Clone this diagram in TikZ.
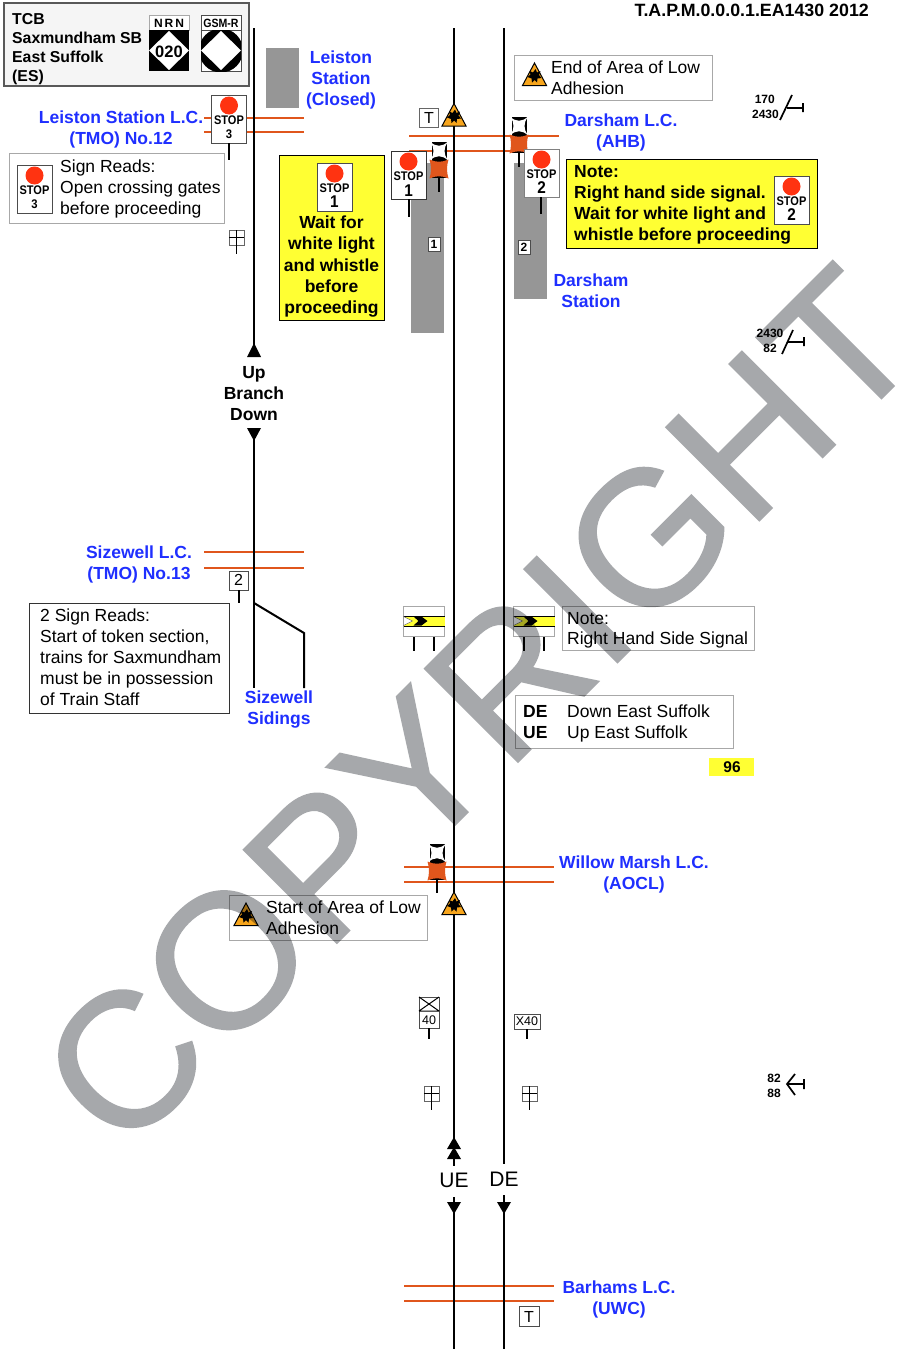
\documentclass[tikz,border=0pt]{standalone}
\usepackage{fontspec}
\setmainfont{Liberation Sans}
\newfontfamily\wmfont[FakeBold=0.8]{Liberation Sans}
\usetikzlibrary{calc}
\definecolor{lineblue}{HTML}{1F2FFF}
\definecolor{xingred}{HTML}{E0561C}
\definecolor{platgrey}{HTML}{969696}
\definecolor{signyellow}{HTML}{FFFF33}
\definecolor{warnorange}{HTML}{F7A51C}
\definecolor{stopred}{HTML}{FF3311}
\definecolor{boxgrey}{HTML}{A8A8A8}
\definecolor{wmgrey}{HTML}{A6A8AB}
\newcommand{\fs}[1]{\fontsize{#1}{#1}\selectfont}
\tikzset{
  x=1pt,y=-1pt,
  track/.style={line width=2pt,black},
  xing/.style={line width=1.5pt,xingred},
  post/.style={line width=1.8pt,black},
  mileline/.style={line width=1.7pt,black},
  platform/.style={fill=platgrey,draw=none},
  loc/.style={font=\fs{17.5}\bfseries,text=lineblue,inner sep=0pt,anchor=center,text height=12.5pt,text depth=0.5pt},
  body/.style={font=\fs{17.5},inner sep=0pt,anchor=west,text height=12.5pt,text depth=0.5pt},
  bodyb/.style={font=\fs{17.5}\bfseries,inner sep=0pt,text height=12.5pt,text depth=0.5pt},
  hdr/.style={font=\fs{15.8}\bfseries,inner sep=0pt,anchor=west,text height=11.5pt,text depth=0.5pt},
  mile/.style={font=\fs{12}\bfseries,inner sep=0pt},
  notebox/.style={draw=boxgrey,line width=1pt,fill=white},
  pics/stopsign/.style n args={4}{code={
    \draw[fill=white,draw=#3,line width=1pt] (0,0) rectangle (35,48);
    \fill[stopred] (17.5,10.5) circle (9);
    \node[inner sep=0pt,font=\fs{12.5}\bfseries] at (17.5,25.5) {\scalebox{.88}[1]{STOP}};
    \node[inner sep=0pt,font=\fs{#2}\bfseries] at (17.5,#4) {\scalebox{.9}[1]{#1}};
  }},
  pics/wigwag/.style={code={
    \fill[black] (0.5,0) rectangle (15.5,18);
    \fill[white] (-0.5,0) .. controls (5,5) and (11,5) .. (16.5,0)
       .. controls (12.5,6) and (12.5,12) .. (16.5,18)
       .. controls (11,13) and (5,13) .. (-0.5,18)
       .. controls (3.5,12) and (3.5,6) .. (-0.5,0) -- cycle;
    \fill[black] (0.5,18) rectangle (15.5,36);
    \fill[xingred] (-1.5,17.5) .. controls (5,20.5) and (11,20.5) .. (17.5,17.5)
       .. controls (15.5,24) and (15.5,30) .. (17.5,36.5)
       .. controls (11,33.5) and (5,33.5) .. (-1.5,36.5)
       .. controls (0.5,30) and (0.5,24) .. (-1.5,17.5) -- cycle;
  }},
  pics/warning/.style={code={
    \fill[warnorange,draw=black,line width=1pt,line join=miter] (0,-12) -- (12,10.5) -- (-12,10.5) -- cycle;
    \fill[black] (1,-6) -- (2.5,-2.5) -- (6,-4) -- (4.5,0) -- (7,3) -- (3,3.5) -- (2.5,7.5) -- (0,5)
      -- (-2.5,7.5) -- (-3,3.5) -- (-7,2) -- (-4,-0.5) -- (-5,-4) -- (-1.5,-2.5) -- cycle;
  }},
  pics/gridsign/.style={code={
    \draw[draw=boxgrey!60!black,line width=1pt,fill=white] (0,0) rectangle (15,15);
    \draw[black,line width=.8pt] (7.5,0) -- (7.5,15) (0,7.5) -- (15,7.5);
    \draw[post] (7.5,15) -- (7.5,24);
  }},
  pics/chevron/.style={code={
    \draw[notebox] (0,0) rectangle (41,30);
    \fill[signyellow] (0,10) rectangle (41,20);
    \draw[black,line width=.8pt] (0,10) -- (41,10) (0,20) -- (41,20);
    \fill[white,draw=black!70,line width=.4pt] (0,10.5) -- (9,15) -- (0,19.5) -- cycle;
    \fill[black] (10,10.5) -- (18,10.5) -- (24,15) -- (18,19.5) -- (10,19.5) -- (15,15) -- cycle;
    \draw[post] (10.5,31) -- (10.5,45) (30.5,31) -- (30.5,45);
  }},
  ttri/.style={fill=black,draw=none}
}
\begin{document}
\begin{tikzpicture}
\useasboundingbox (0,0) rectangle (900,1349);
\fill[white] (0,0) rectangle (900,1349);

% platforms
\fill[platform] (266,48) rectangle (299,108);
\fill[platform] (411,163) rectangle (444,333);
\fill[platform] (514,163) rectangle (547,299);

% crossing lines
\draw[xing] (204,118) -- (304,118) (204,132) -- (304,132);
\draw[xing] (204,552) -- (304,552) (204,568) -- (304,568);
\draw[xing] (409,136) -- (559,136) (409,151) -- (559,151);
\draw[xing] (404,867) -- (554,867) (404,882) -- (554,882);
\draw[xing] (404,1286) -- (554,1286) (404,1301) -- (554,1301);

% tracks
\coordinate (br1) at (254,28); \coordinate (br2) at (254,357);
\coordinate (br3) at (254,428); \coordinate (br4) at (254,688);
\coordinate (sd1) at (254,603); \coordinate (sd2) at (304,633); \coordinate (sd3) at (304,688);
\draw[track] (br1) -- (br2);
\draw[track] (br3) -- (br4);
\draw[track,line join=miter] (sd1) -- (sd2) -- (sd3);
\coordinate (ue1) at (454,28); \coordinate (ue2) at (454,1166);
\coordinate (ue3) at (454,1197); \coordinate (ue4) at (454,1349);
\coordinate (de1) at (504,28); \coordinate (de2) at (504,1164);
\coordinate (de3) at (504,1195); \coordinate (de4) at (504,1349);
\draw[track] (ue1) -- (ue2) (ue3) -- (ue4);
\draw[track] (de1) -- (de2) (de3) -- (de4);
\fill[ttri] (254,343) -- (261,357) -- (247,357) -- cycle;
\fill[ttri] (247,428) -- (261,428) -- (254,441) -- cycle;
\fill[ttri] (454,1137) -- (461,1149) -- (447,1149) -- cycle;
\fill[ttri] (454,1147) -- (461,1159) -- (447,1159) -- cycle;
\fill[ttri] (447,1202) -- (461,1202) -- (454,1214) -- cycle;
\fill[ttri] (497,1202) -- (511,1202) -- (504,1214) -- cycle;

\node[bodyb] (up) at (254,372) {Up};
\node[bodyb] (branch) at (254,393) {Branch};
\node[bodyb] (down) at (254,414) {Down};
\node[font=\fs{21},inner sep=0pt] (ue) at (454,1180) {UE};
\node[font=\fs{21},inner sep=0pt] (de) at (504,1179) {DE};

% header
\draw[draw=black!65,fill=black!4,line width=1.2pt] (4,3) rectangle (249,86);
\node[hdr] (h1) at (12,19) {TCB};
\node[hdr] (h2) at (12,38) {Saxmundham SB};
\node[hdr] (h3) at (12,57) {East Suffolk};
\node[hdr] (h4) at (12,76) {(ES)};
\draw[draw=boxgrey,fill=white,line width=.8pt] (149,15) rectangle (189,30);
\node[inner sep=0pt,font=\fs{12}\bfseries] (nrn) at (169,23) {N\,R\,N};
\fill[black] (149,30) rectangle (189,71);
\fill[white] (169,31) -- (189,50.5) -- (169,70) -- (149,50.5) -- cycle;
\node[inner sep=0pt,font=\fs{16.5}\bfseries] (n020) at (169,52) {020};
\draw[draw=black!70,fill=white,line width=.8pt] (201,15) rectangle (241,30);
\node[inner sep=0pt,font=\fs{12}\bfseries] (gsm) at (221,23) {\scalebox{.88}[1]{GSM-R}};
\draw[draw=black!70,fill=white,line width=.8pt] (201,30) rectangle (241,71);
\begin{scope}
\clip (201,30) rectangle (241,71);
\fill[black] (221,50.5) circle (22);
\end{scope}
\fill[white] (221,31) -- (241,50.5) -- (221,70) -- (201,50.5) -- cycle;

\node[inner sep=0pt,font=\fs{17.8}\bfseries,anchor=east] (ref) at (869,10) {T.A.P.M.0.0.0.1.EA1430 2012};

% Location labels
\node[loc] (l1) at (341,57) {Leiston};
\node[loc] (l2) at (341,78) {Station};
\node[loc] (l3) at (341,99) {(Closed)};
\node[loc] (l4) at (121,117) {Leiston Station L.C.};
\node[loc] (l5) at (121,138) {(TMO) No.12};
\node[loc] (l6) at (621,120) {Darsham L.C.};
\node[loc] (l7) at (621,141) {(AHB)};
\node[loc] (l8) at (591,280) {Darsham};
\node[loc] (l9) at (591,301) {Station};
\node[loc] (l10) at (139,552) {Sizewell L.C.};
\node[loc] (l11) at (139,573) {(TMO) No.13};
\node[loc] (l12) at (279,697) {Sizewell};
\node[loc] (l13) at (279,718) {Sidings};
\node[loc] (l14) at (634,862) {Willow Marsh L.C.};
\node[loc] (l15) at (634,883) {(AOCL)};
\node[loc] (l16) at (619,1287) {Barhams L.C.};
\node[loc] (l17) at (619,1308) {(UWC)};

% Stop 3 at Leiston
\pic at (211.5,95) {stopsign={3}{12.5}{black!70}{39}};
\draw[post] (229,143) -- (229,160);

% Sign reads box
\draw[notebox] (9,153) rectangle (224,223);
\pic at (17,165) {stopsign={3}{12.5}{black!70}{39}};
\node[body] (s1) at (60,166) {Sign Reads:};
\node[body] (s2) at (60,187) {Open crossing gates};
\node[body] (s3) at (60,208) {before proceeding};

\pic at (229,230) {gridsign};

% Yellow box 1
\draw[fill=signyellow,draw=black,line width=1pt] (279,155) rectangle (384,320);
\pic at (317,163) {stopsign={1}{17}{black!70}{39}};
\node[bodyb] (y1) at (331.5,222) {Wait for};
\node[bodyb] (y2) at (331.5,243) {white light};
\node[bodyb] (y3) at (331.5,265) {and whistle};
\node[bodyb] (y4) at (331.5,286) {before};
\node[bodyb] (y5) at (331.5,307) {proceeding};

% Up side Darsham
\draw[draw=black!60,fill=white,line width=1pt] (419.5,108.5) rectangle (438.5,127.5);
\node[inner sep=0pt,font=\fs{16}] (t1) at (429,118) {T};
\pic at (454,115.5) {warning};
\pic at (431,142) {wigwag};
\draw[post] (439,177) -- (439,192);
\pic at (391,151) {stopsign={1}{17}{black!80}{40}};
\draw[post] (409,199) -- (409,217);
\draw[fill=white,draw=black!70,line width=1pt] (428,237) rectangle (440,251);
\node[inner sep=0pt,font=\fs{12}\bfseries] (p1) at (434,244) {1};

% Down side Darsham
\pic at (511,117) {wigwag};
\draw[post] (519,152) -- (519,167);
\pic at (524,149) {stopsign={2}{17}{black!50}{39}};
\draw[post] (541,197) -- (541,214);
\draw[fill=white,draw=black!70,line width=1pt] (518,240) rectangle (530,254);
\node[inner sep=0pt,font=\fs{12}\bfseries] (p2) at (524,247) {2};

% End of area box
\draw[notebox,fill=none] (514,55) rectangle (712,100);
\pic at (534.5,75) {warning};
\node[body] (e1) at (551,67) {End of Area of Low};
\node[body] (e2) at (551,88) {Adhesion};

% Yellow note
\draw[fill=signyellow,draw=black,line width=1pt] (566,159) rectangle (817,248);
\node[bodyb,anchor=west] (n1) at (574,171) {Note:};
\node[bodyb,anchor=west] (n2) at (574,192) {Right hand side signal.};
\node[bodyb,anchor=west] (n3) at (574,213) {Wait for white light and};
\node[bodyb,anchor=west] (n4) at (574,234) {whistle before proceeding};
\pic at (774,176) {stopsign={2}{17}{black!70}{39}};

% mileage
\node[mile,anchor=east] (m1) at (775,99) {170};
\node[mile,anchor=east] (m2) at (779,114) {2430};
\draw[mileline] (780,120) -- (792,95) (787,108) -- (803,108) (803,103) -- (803,112);
\node[mile] (m3) at (770,333) {2430};
\node[mile] (m4) at (770,348) {82};
\draw[mileline] (782,354) -- (793,330) (787,342) -- (804,342) (804,337) -- (804,346);
\node[mile] (m5) at (774,1078) {82};
\node[mile] (m6) at (774,1093) {88};
\draw[mileline] (795,1074) -- (787,1084) -- (795,1095) (787,1084) -- (804,1084) (804,1079) -- (804,1089);

% Sizewell sign
\draw[fill=white,draw=black!70,line width=1pt] (229,571) rectangle (248,590);
\node[inner sep=0pt,font=\fs{16}] (z2) at (238.5,580) {2};
\draw[post] (239,590) -- (239,603);
\draw[draw=black!80,fill=white,line width=1pt] (29,603) rectangle (229,713);
\node[body] (r1) at (40,615) {2 Sign Reads:};
\node[body] (r2) at (40,636) {Start of token section,};
\node[body] (r3) at (40,657) {trains for Saxmundham};
\node[body] (r4) at (40,678) {must be in possession};
\node[body] (r5) at (40,699) {of Train Staff};

% chevrons
\pic at (403.5,606) {chevron};
\pic at (513.5,606) {chevron};
\draw[notebox] (562,606) rectangle (754,650);
\node[body] (c1) at (567,618) {Note:};
\node[body] (c2) at (567,638) {Right Hand Side Signal};

% key
\draw[notebox] (515,695) rectangle (733,748);
\node[bodyb,anchor=west] (k1) at (523,711) {DE};
\node[body] (k2) at (567,711) {Down East Suffolk};
\node[bodyb,anchor=west] (k3) at (523,732) {UE};
\node[body] (k4) at (567,732) {Up East Suffolk};
\fill[signyellow] (709,758) rectangle (754,776);
\node[inner sep=0pt,font=\fs{15.5}\bfseries] (pg) at (732,767) {96};

% Willow
\pic at (429,844) {wigwag};
\draw[post] (437,879) -- (437,893);
\pic at (454,904) {warning};
\draw[notebox,fill=none] (229,895) rectangle (427,940);
\pic at (246,915) {warning};
\node[body] (w1) at (266,907) {Start of Area of Low};
\node[body] (w2) at (266,928) {Adhesion};

% speed boards
\draw[fill=white,draw=black!70,line width=1pt] (419,997) rectangle (439,1028);
\draw[black,line width=1pt] (419,997) -- (439,1011) (439,997) -- (419,1011) (419,1011) -- (439,1011);
\node[inner sep=0pt,font=\fs{12.5}] (s40) at (429,1020) {40};
\draw[post] (429,1028) -- (429,1039);
\draw[fill=white,draw=black!70,line width=1pt] (514.5,1014) rectangle (540,1029);
\node[inner sep=0pt,font=\fs{12.5}] (sx40) at (527,1021.5) {X40};
\draw[post] (527,1029) -- (527,1039);
\pic at (424,1086) {gridsign};
\pic at (522,1086) {gridsign};

\draw[fill=white,draw=black!70,line width=1pt] (519.5,1306.5) rectangle (539,1326);
\node[inner sep=0pt,font=\fs{16}] (t2) at (529,1316.5) {T};

% watermark
\begin{scope}[blend mode=multiply]
\begin{scope}[transparency group]
\node[anchor=base west,inner sep=0pt,rotate=45,text=wmgrey,font=\fs{192}\wmfont] (wm) at (122,1158) {\pgfsetstrokecolor{wmgrey}COPYRIGHT};
\end{scope}
\end{scope}
\end{tikzpicture}
\end{document}
